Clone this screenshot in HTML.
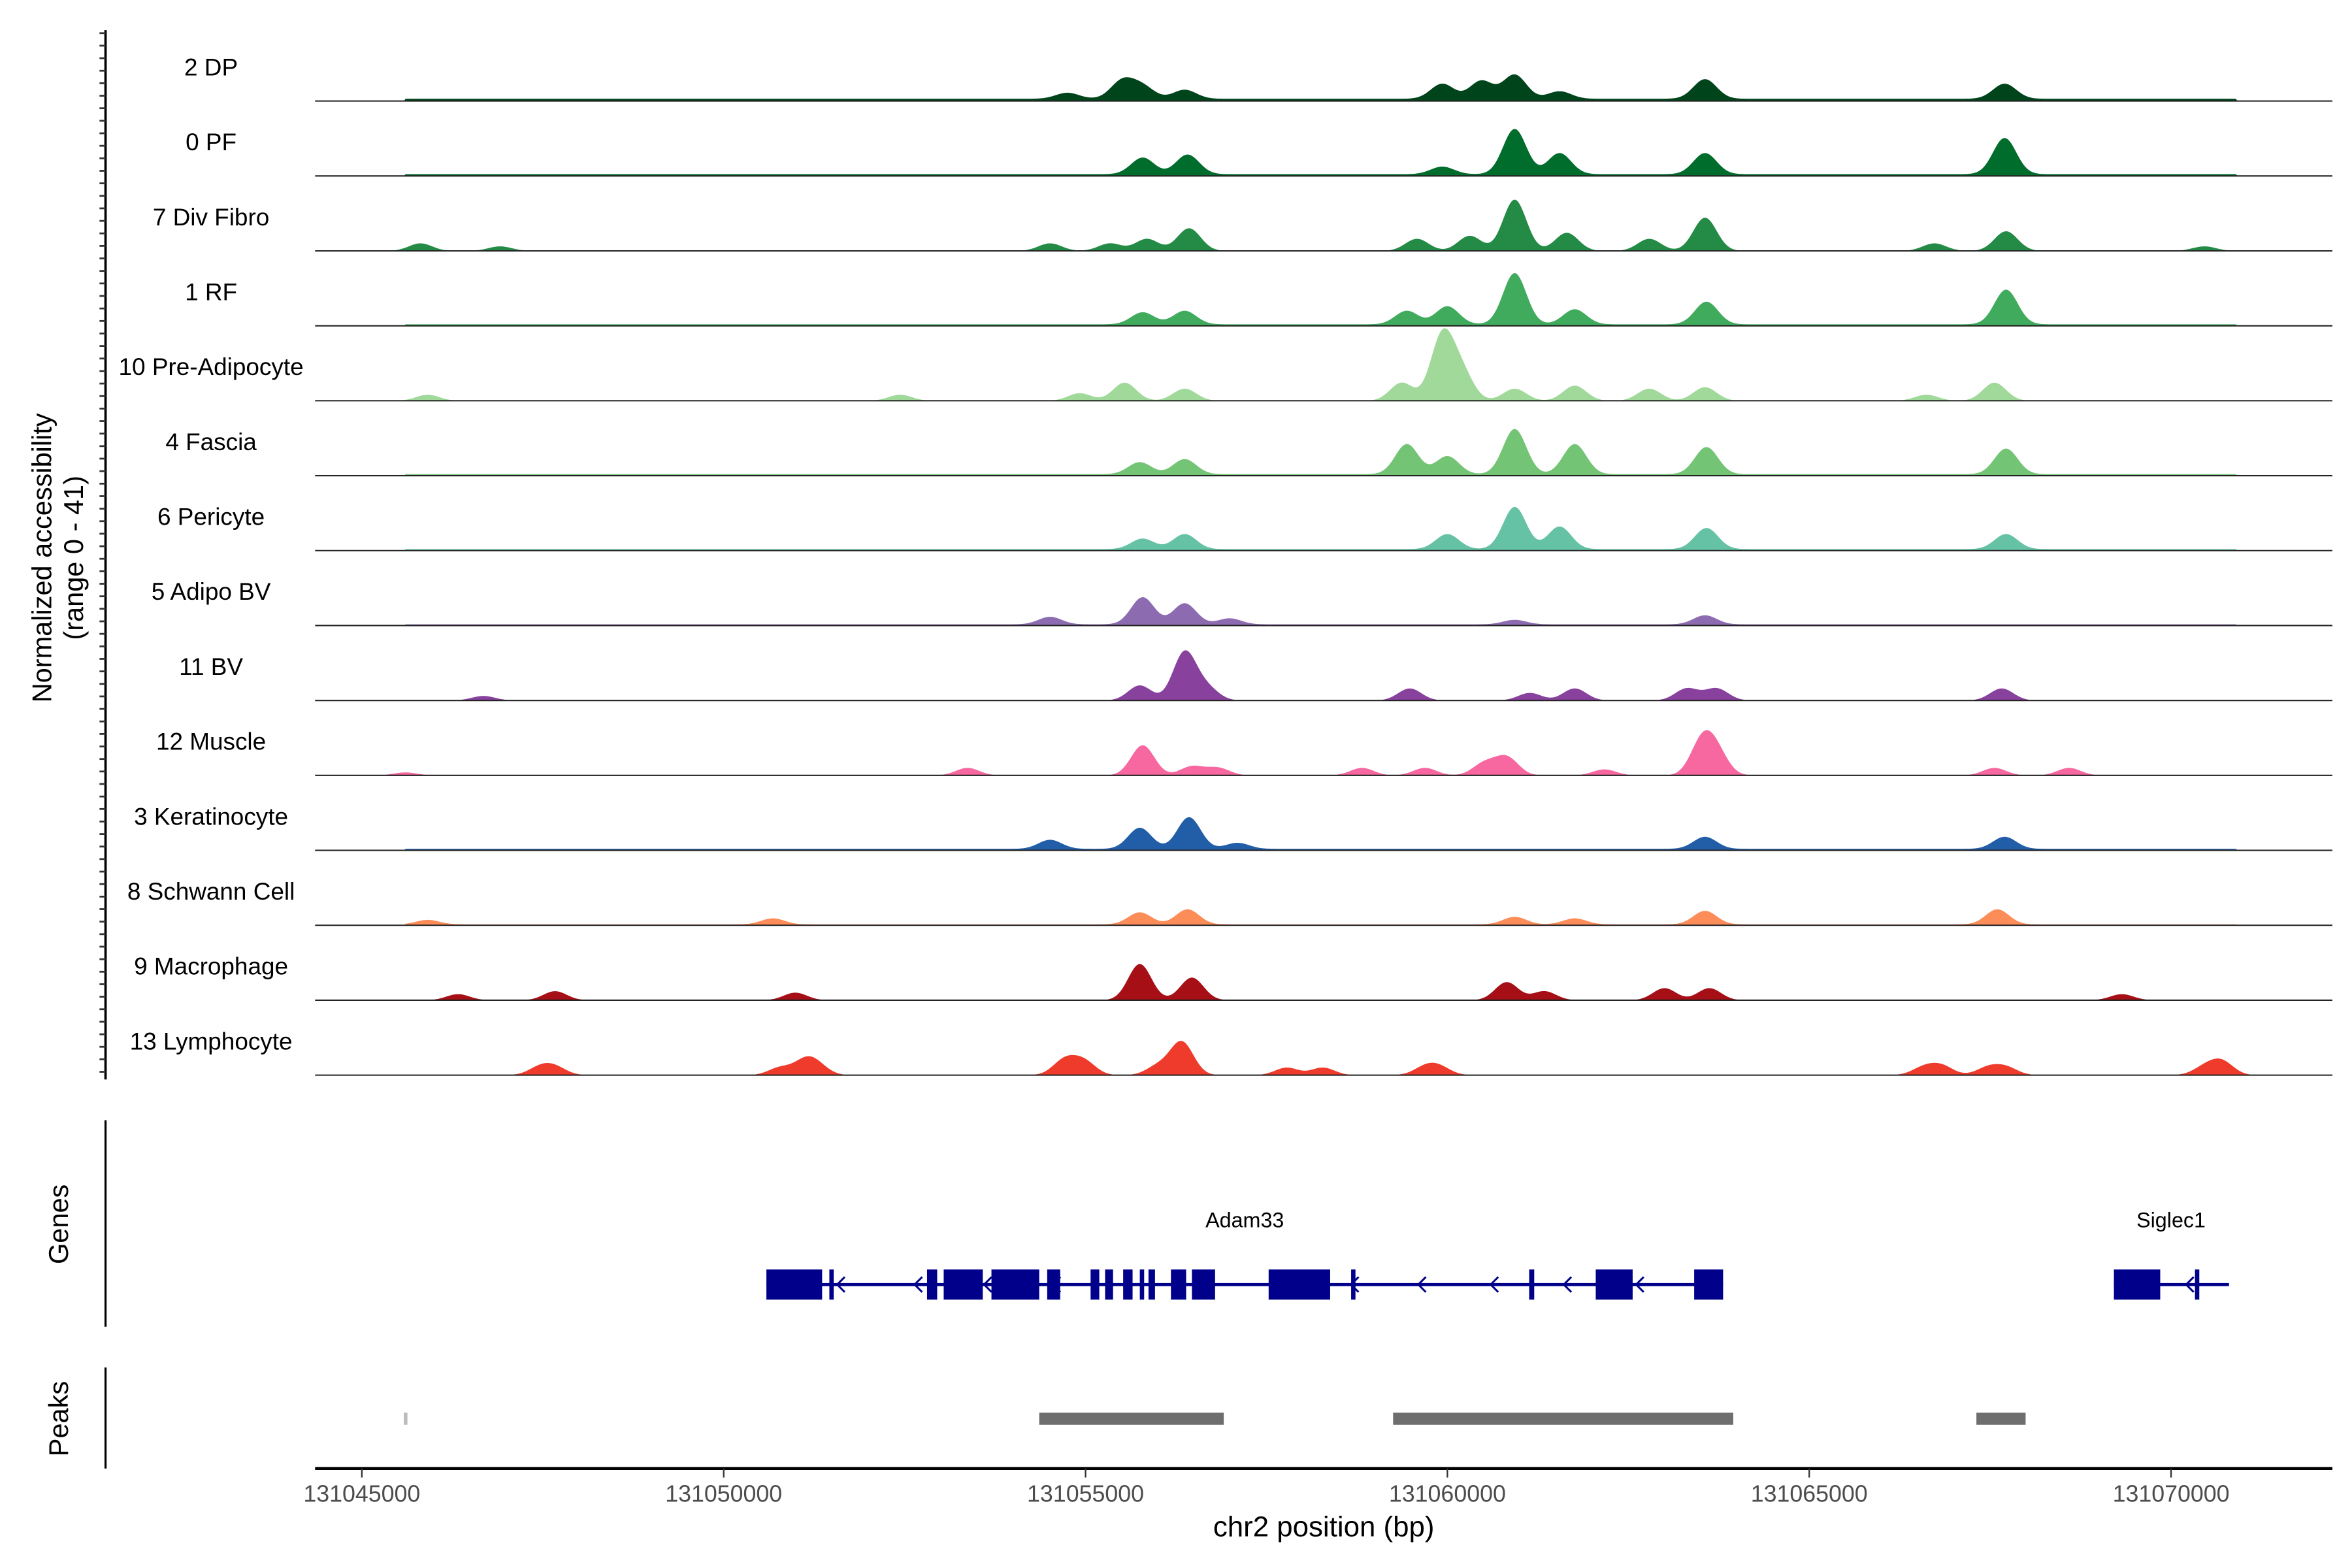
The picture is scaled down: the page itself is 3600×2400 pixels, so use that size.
<!DOCTYPE html>
<html><head><meta charset="utf-8"><style>
html,body{margin:0;padding:0;background:#fff;}
svg{display:block;}
text{font-family:"Liberation Sans",sans-serif;}
</style></head><body>
<svg id="chart" width="3600" height="2400" viewBox="0 0 1560 1040" xmlns="http://www.w3.org/2000/svg">
<g id="tracks"></g>
<g id="genes"></g>
<g id="peaks"></g>
<g id="axes"></g>
</svg>
<script>
// ---- data (positions in kb on chr2, offset from 131,000 kb) ----
const trackNames = ["2 DP","0 PF","7 Div Fibro","1 RF","10 Pre-Adipocyte","4 Fascia","6 Pericyte","5 Adipo BV","11 BV","12 Muscle","3 Keratinocyte","8 Schwann Cell","9 Macrophage","13 Lymphocyte"];
const trackColors = ["#00441b","#006d2c","#238b45","#41ab5d","#a1d99b","#74c476","#66c2a4","#8c6bb1","#88419d","#f768a1","#225ea8","#fc8d59","#a50f15","#ef3b2c"];
const trackBackground = [1.5,1.2,0,1,0,1,1,0.8,0,0,1,0.6,0,0];
const peakPos = [
 [55.51,54.75,55.79,56.37,59.93,60.47,60.93,61.55,63.56,67.70],
 [55.79,56.41,59.93,60.93,61.55,63.56,67.70],
 [45.81,46.91,54.51,55.34,55.85,56.43,59.58,60.31,60.93,61.65,62.79,63.56,66.73,67.72,70.46],
 [55.79,56.37,59.44,60.00,60.93,61.76,63.58,67.72],
 [45.91,52.44,54.92,55.54,56.37,59.37,59.93,60.20,60.93,61.76,62.79,63.56,67.56,66.62],
 [55.75,56.37,59.44,60.00,60.93,61.76,63.58,67.72],
 [55.79,56.37,60.00,60.93,61.55,63.58,67.72],
 [54.51,55.79,56.37,56.99,63.56,60.93],
 [46.68,55.75,56.37,56.68,59.48,61.14,61.76,63.31,63.72,67.66],
 [45.60,53.37,55.79,56.47,56.83,58.82,59.69,60.51,60.82,62.17,63.52,63.72,67.56,68.59],
 [54.51,55.75,56.43,57.10,63.56,67.70],
 [45.91,50.68,55.75,56.41,60.93,61.76,63.56,67.60],
 [46.33,47.67,50.99,55.75,56.47,60.82,61.34,63.00,63.62,69.32],
 [47.46,47.67,50.78,51.13,51.30,54.71,54.98,56.00,56.33,57.78,58.28,59.69,59.89,66.58,66.83,67.47,67.72,70.46,70.70]
];
const peakHeight = [
 [12,4,8,6,10,12,16,5,13,10],
 [11,13,5,30,14,14,24],
 [5,3,5,5,8,15,8,10,34,12,8,22,5,13,3],
 [8,9,9,12,34,10,15,23],
 [4,4,5,12,8,12,43,18,8,10,8,9,12,4],
 [8,10,20,12,30,20,18,17],
 [7,10,10,28,15,14,10],
 [5,18,14,4,6,3],
 [3,10,32,8,8,5,8,8,8,8],
 [2,5,20,6,5,5,5,8,12,4,22,14,5,5],
 [6,14,21,4,8,8],
 [3,4,8,10,5,4,9,10],
 [4,6,5,24,15,12,6,8,8,4],
 [5,5,5,9,5,10,9,6,22,5,5,5,5,5,6,5,5,5,9]
];
const geneExonStart = [50.59,51.46,52.81,53.04,53.70,54.47,55.07,55.27,55.52,55.75,55.87,56.18,56.47,57.53,58.67,61.13,62.05,63.41,69.21,70.33];
const geneExonEnd   = [51.36,51.52,52.95,53.58,54.36,54.65,55.19,55.38,55.65,55.81,55.96,56.39,56.79,58.38,58.73,61.20,62.56,63.81,69.85,70.39];
const geneNames = ["Adam33","Siglec1"];
const geneStart = [50.59,69.21];
const geneEnd = [63.81,70.80];
const geneLabelPos = [57.2,70.0];
const arrowPos = [51.61,52.68,53.64,54.59,58.71,59.64,60.64,61.65,62.65,70.25];
const peakRegionStart = [45.58,54.36,59.25,67.31];
const peakRegionEnd = [45.63,56.91,63.95,67.99];
const xTicks = [45,50,55,60,65,70];
const xTickLabels = ["131045000","131050000","131055000","131060000","131065000","131070000"];

// ---- scales ----
const NS="http://www.w3.org/2000/svg";
const X0=209, X1=1547;
function xs(kb){ return 240 + (kb-45)*48.0; }
function base(i){ return 67 + i*49.7; }
function mk(tag, attrs, parent){ const e=document.createElementNS(NS,tag); for(const k in attrs) e.setAttribute(k,attrs[k]); parent.appendChild(e); return e; }

const tracksG=document.getElementById('tracks');
trackNames.forEach((name,i)=>{
  const b=base(i);
  const g=mk('g',{},tracksG);
  
  
  const lab=mk('text',{x:140,y:b-17,'text-anchor':'middle','font-size':16,fill:'#000'},g);
  lab.textContent=name;
  
  
  let d='M'+X0+' '+b;
  const sigma=0.16;
  for(let px=X0;px<=1500;px+=1){
    const kb=(px-240)/48.0+45;
    let v=0;
    if(kb>45.6 && kb<70.9) v+=trackBackground[i];
    peakPos[i].forEach((p,j)=>{ const z=(kb-p)/sigma; v+=peakHeight[i][j]*Math.exp(-z*z/2); });
    if(v<0.4) v=0;
    d+=' L'+px+' '+(b-v*1.0).toFixed(2);
  }
  d+=' L1500 '+b+' Z';
  const area=mk('path',{d:d,fill:trackColors[i],stroke:'none'},g);
  
  
  const bl=mk('line',{x1:X0,x2:X1,y1:b,y2:b,stroke:'#222','stroke-width':0.9},g);
  
  
});

// genes
const genesG=document.getElementById('genes');
const GY=852;
geneNames.forEach((n,i)=>{
  const l=mk('line',{x1:xs(geneStart[i]),x2:xs(geneEnd[i]),y1:GY,y2:GY,stroke:'#00008b','stroke-width':2},genesG);
  
  
  const t=mk('text',{x:xs(geneLabelPos[i]),y:GY-38,'text-anchor':'middle','font-size':14,fill:'#000'},genesG);
  t.textContent=n;
  
  
});
geneExonStart.forEach((s,i)=>{
  const r=mk('rect',{x:xs(s),y:GY-10,width:Math.max(1.5,xs(geneExonEnd[i])-xs(s)),height:20,fill:'#00008b'},genesG);
  
  
});
arrowPos.forEach(p=>{
  const x=xs(p);
  const a=mk('path',{d:`M${x+3} ${GY-5} L${x-2} ${GY} L${x+3} ${GY+5}`,fill:'none',stroke:'#00008b','stroke-width':1.3},genesG);
  
  
});

// peaks
const peaksG=document.getElementById('peaks');
peakRegionStart.forEach((s,i)=>{
  const w=xs(peakRegionEnd[i])-xs(s);
  const r=mk('rect',{x:xs(s),y:937,width:Math.max(1,w),height:8,fill:w<5?'#bbb':'#6e6e6e'},peaksG);
  
  
});

// axes
const ax=document.getElementById('axes');
function line(a,name){ const e=mk('line',a,ax);   return e; }
line({x1:70,x2:70,y1:20,y2:716,stroke:'#000','stroke-width':1.6},'y-axis-line');
for(let y=22;y<=716;y+=8.3){ line({x1:66,x2:70,y1:y,y2:y,stroke:'#333','stroke-width':1.2},'y-axis-tick'); }
line({x1:70,x2:70,y1:743,y2:880,stroke:'#000','stroke-width':1.4},'genes-axis-line');
line({x1:70,x2:70,y1:907,y2:974,stroke:'#000','stroke-width':1.4},'peaks-axis-line');
line({x1:X0,x2:X1,y1:974,y2:974,stroke:'#000','stroke-width':2},'x-axis-line');
xTicks.forEach((t,i)=>{
  line({x1:xs(t),x2:xs(t),y1:974,y2:980,stroke:'#333','stroke-width':1},'x-axis-tick');
  const tx=mk('text',{x:xs(t),y:996,'text-anchor':'middle','font-size':15.5,fill:'#4d4d4d'},ax);
  tx.textContent=xTickLabels[i];
  
  
});
function txt(s,a,name){ const e=mk('text',a,ax); e.textContent=s;   }
txt('chr2 position (bp)',{x:878,y:1019,'text-anchor':'middle','font-size':19,fill:'#000'},'x-axis-title');
txt('Normalized accessibility',{x:0,y:0,transform:'translate(34,370) rotate(-90)','text-anchor':'middle','font-size':18,fill:'#000'},'y-axis-title');
txt('(range 0 - 41)',{x:0,y:0,transform:'translate(55,370) rotate(-90)','text-anchor':'middle','font-size':18,fill:'#000'},'y-axis-range');
txt('Genes',{x:0,y:0,transform:'translate(45,812) rotate(-90)','text-anchor':'middle','font-size':18,fill:'#000'},'genes-title');
txt('Peaks',{x:0,y:0,transform:'translate(45,941) rotate(-90)','text-anchor':'middle','font-size':18,fill:'#000'},'peaks-title');
</script>
</body></html>
